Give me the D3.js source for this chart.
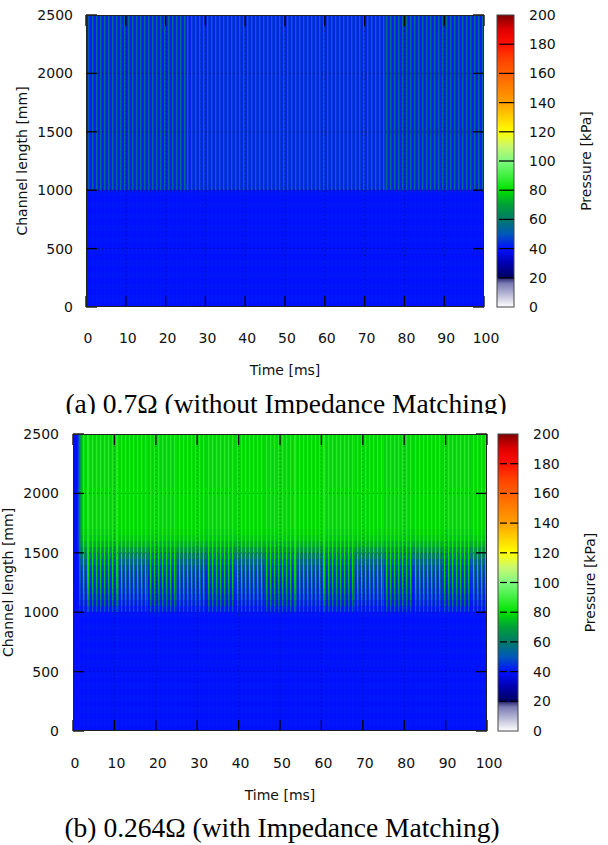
<!DOCTYPE html>
<html><head><meta charset="utf-8">
<script src="https://cdn.jsdelivr.net/npm/d3@7"></script>
<style>body{margin:0;background:#fff} svg{display:block}</style>
</head><body><svg id="c" width="608" height="845"></svg>
<script>
// ---------- data ----------
const timeTicks = [0,10,20,30,40,50,60,70,80,90,100];
const positionTicks = [0,500,1000,1500,2000,2500];
const pressureTicks = [0,20,40,60,80,100,120,140,160,180,200];
const paletteValues = [0,16,19,20,30,40,50,60,70,80,90,100,110,120,130,140,150,160,170,180,190,200];
const paletteColors = ["#ffffff","#7c7cb4","#3a3a80","#000060","#0000b0","#0010ff","#0058b8","#007a68","#00a038","#00e000","#40f040","#80f880","#c8f870","#ffff00","#ffd000","#ffa000","#ff8000","#ff6000","#ff4000","#ff1000","#e00000","#800000"];
// row bands of the channel (mm, lower edge of each 50 mm band)
const rowStarts = [0,50,100,150,200,250,300,350,400,450,500,550,600,650,700,750,800,850,900,950,
  1000,1050,1100,1150,1200,1250,1300,1350,1400,1450,1500,1550,1600,1650,1700,1750,1800,1850,1900,1950,
  2000,2050,2100,2150,2200,2250,2300,2350,2400,2450];
// (a) 0.7 ohm : pressure at stripe trough / crest for each band (kPa)
const troughA = [40,40.5,40,40.5,40,40.5,40,40.5,40,40.5,40,40.5,40,40.5,40,40.5,40,40.5,40,40.5,
  41.5,41.5,41.5,41.5,41.5,41.5,41.5,41.5,41.5,41.5,41.5,41.5,41.5,41.5,41.5,41.5,41.5,41.5,41.5,41.5,41.5,41.5,41.5,41.5,41.5,41.5,41.5,41.5,41.5,41.5];
const crestA  = [40.5,41,40.5,41,40.5,41,40.5,41,40.5,41,40.5,41,40.5,41,40.5,41,40.5,41,40.5,41,
  56,56,56,56,56,56,56,56,56,56,56,56,56,56,56,56,56,56,56,56,56,56,56,56,56,56,56,56,56,56];
// (b) 0.264 ohm
const troughB = [40,40.5,40,40.5,40,40.5,40,40.5,40,40.5,40,40.5,40,40.5,40,40.5,40,40.5,40,40.5,
  40,40,40.5,41,41.5,42,43,45,49,56,64,71,75,77,
  78,78,78,78,78,78,78,78,78,78,78,78,78,78,78,78];
const crestB  = [40.5,41,40.5,41,40.5,41,40.5,41,40.5,41,40.5,41,40.5,41,40.5,41,40.5,41,40.5,41,
  50,60,67,72,75,77,79,80,81,82,83,84,85,85,
  86,86,86,86,86,86,86,86,86,86,86,86,86,86,86,86];
// shape of one oscillation period (1 ms, sampled every 0.25 ms)
const stripeShape = [0,0.1,1,0.35];
// start-up build-up at the beginning (every 0.25 ms)
const startupA = [0,0.3,0.6,0.9];
const startupB = [0,0,0,0,0.05,0.2,0.45,0.7,0.85,0.95];
const restPressure = 40;
const captions = ["(a) 0.7Ω (without Impedance Matching)","(b) 0.264Ω (with Impedance Matching)"];

// ---------- drawing ----------
const svg = d3.select("#c");
const color = d3.scaleLinear().domain(paletteValues).range(paletteColors).clamp(true);
const FONT = "DejaVu Sans";
const dt = 0.25, dRow = 50;
const timeCols = d3.range(0, 100, dt);

function drawChart(cfg) {
  const g = svg.append("g");
  const x = d3.scaleLinear().domain([0,100]).range([cfg.x0, cfg.x1]);
  const y = d3.scaleLinear().domain([0,2500]).range([cfg.y1, cfg.y0]);
  const xr = v => Math.round(x(v)), yr = v => Math.round(y(v));
  const cells = [];
  rowStarts.forEach((p, r) => {
    timeCols.forEach((t, c) => {
      const s = stripeShape[c % stripeShape.length];
      let v = cfg.trough[r] + s * (cfg.crest[r] - cfg.trough[r]);
      const su = c < cfg.startup.length ? cfg.startup[c] : 1;
      v = restPressure + su * (v - restPressure);
      cells.push({t, p, v});
    });
  });
  g.append("g").attr("shape-rendering","crispEdges").selectAll("rect")
    .data(cells.filter(d => xr(d.t + dt) > xr(d.t))).join("rect")
    .attr("x", d => xr(d.t)).attr("y", d => yr(d.p + dRow))
    .attr("width", d => xr(d.t + dt) - xr(d.t))
    .attr("height", d => yr(d.p) - yr(d.p + dRow))
    .attr("fill", d => color(d.v));
  // grid
  const grid = g.append("g").attr("stroke","#000").attr("stroke-opacity",0.4).attr("stroke-dasharray","1,3");
  timeTicks.slice(1,-1).forEach(t => grid.append("line").attr("x1",x(t)).attr("x2",x(t)).attr("y1",cfg.y0).attr("y2",cfg.y1));
  positionTicks.slice(1,-1).forEach(p => grid.append("line").attr("y1",y(p)).attr("y2",y(p)).attr("x1",cfg.x0).attr("x2",cfg.x1));
  // ticks (inward, mirrored)
  const tk = g.append("g").attr("stroke","#000").attr("stroke-width",1.3);
  const L = 11;
  timeTicks.forEach(t => {
    tk.append("line").attr("x1",x(t)).attr("x2",x(t)).attr("y1",cfg.y1).attr("y2",cfg.y1-L);
    tk.append("line").attr("x1",x(t)).attr("x2",x(t)).attr("y1",cfg.y0).attr("y2",cfg.y0+L);
  });
  positionTicks.forEach(p => {
    tk.append("line").attr("y1",y(p)).attr("y2",y(p)).attr("x1",cfg.x0).attr("x2",cfg.x0+L);
    tk.append("line").attr("y1",y(p)).attr("y2",y(p)).attr("x1",cfg.x1).attr("x2",cfg.x1-L);
  });
  g.append("rect").attr("x",cfg.x0+0.5).attr("y",cfg.y0+0.5).attr("width",cfg.x1-cfg.x0-1).attr("height",cfg.y1-cfg.y0-1)
    .attr("fill","none").attr("stroke","#222").attr("stroke-width",1);
  // tick labels
  const txt = g.append("g").attr("font-family",FONT).attr("font-size",14).attr("fill","#111");
  timeTicks.forEach(t => txt.append("text").attr("x",x(t)+2).attr("y",cfg.xLabY).attr("text-anchor","middle").text(t));
  positionTicks.forEach(p => txt.append("text").attr("x",cfg.yLabX).attr("y",y(p)+5).attr("text-anchor","end").text(p));
  txt.append("text").attr("x",(cfg.x0+cfg.x1)/2).attr("y",cfg.xTitleY).attr("text-anchor","middle").text("Time [ms]");
  txt.append("text").attr("transform",`translate(${cfg.yTitleX},${(cfg.y0+cfg.y1)/2}) rotate(-90)`).attr("text-anchor","middle").attr("dy","0.35em").text("Channel length [mm]");
  // colorbar
  const cy = d3.scaleLinear().domain([0,200]).range([cfg.y1, cfg.y0]);
  const gid = "grad" + cfg.id;
  const grad = svg.append("defs").append("linearGradient").attr("id",gid).attr("x1",0).attr("x2",0).attr("y1",1).attr("y2",0);
  paletteValues.forEach((v,i) => grad.append("stop").attr("offset", v/200).attr("stop-color", paletteColors[i]));
  g.append("rect").attr("x",cfg.cb0).attr("y",cfg.y0).attr("width",cfg.cb1-cfg.cb0).attr("height",cfg.y1-cfg.y0)
    .attr("fill",`url(#${gid})`).attr("stroke","#444").attr("stroke-width",1);
  const ct = g.append("g").attr("stroke","#000").attr("stroke-width",1.2);
  pressureTicks.slice(1,-1).forEach(v => {
    ct.append("line").attr("x1",cfg.cb0+2).attr("x2",cfg.cb0+9).attr("y1",cy(v)).attr("y2",cy(v));
    ct.append("line").attr("x1",cfg.cb1-8).attr("x2",cfg.cb1).attr("y1",cy(v)).attr("y2",cy(v));
  });
  pressureTicks.forEach(v => txt.append("text").attr("x",cfg.cbLabX).attr("y",cy(v)+5).text(v));
  txt.append("text").attr("transform",`translate(${cfg.cbTitleX},${(cfg.y0+cfg.y1)/2}) rotate(-90)`).attr("text-anchor","middle").attr("dy","0.35em").text("Pressure [kPa]");
  // caption
  const cap = svg.append("text").attr("x",cfg.capX).attr("y",cfg.capY).attr("text-anchor","middle")
    .attr("font-family","Liberation Serif").attr("font-size",27.5).attr("fill","#000").text(cfg.caption);
  if (cfg.clipY) {
    svg.append("defs").append("clipPath").attr("id","cap"+cfg.id).append("rect").attr("x",0).attr("y",0).attr("width",608).attr("height",cfg.clipY);
    cap.attr("clip-path",`url(#cap${cfg.id})`);
  }
}

drawChart({id:"A", x0:86, x1:484, y0:15, y1:307, trough:troughA, crest:crestA, startup:startupA,
  xLabY:343, yLabX:73, xTitleY:375, yTitleX:22, cb0:497, cb1:514, cbLabX:529, cbTitleX:586,
  caption:captions[0], capX:286, capY:413, clipY:414});
drawChart({id:"B", x0:73, x1:487, y0:434, y1:731, trough:troughB, crest:crestB, startup:startupB,
  xLabY:768, yLabX:59, xTitleY:800, yTitleX:8, cb0:498, cb1:518, cbLabX:533, cbTitleX:590,
  caption:captions[1], capX:282, capY:837});
</script></body></html>
